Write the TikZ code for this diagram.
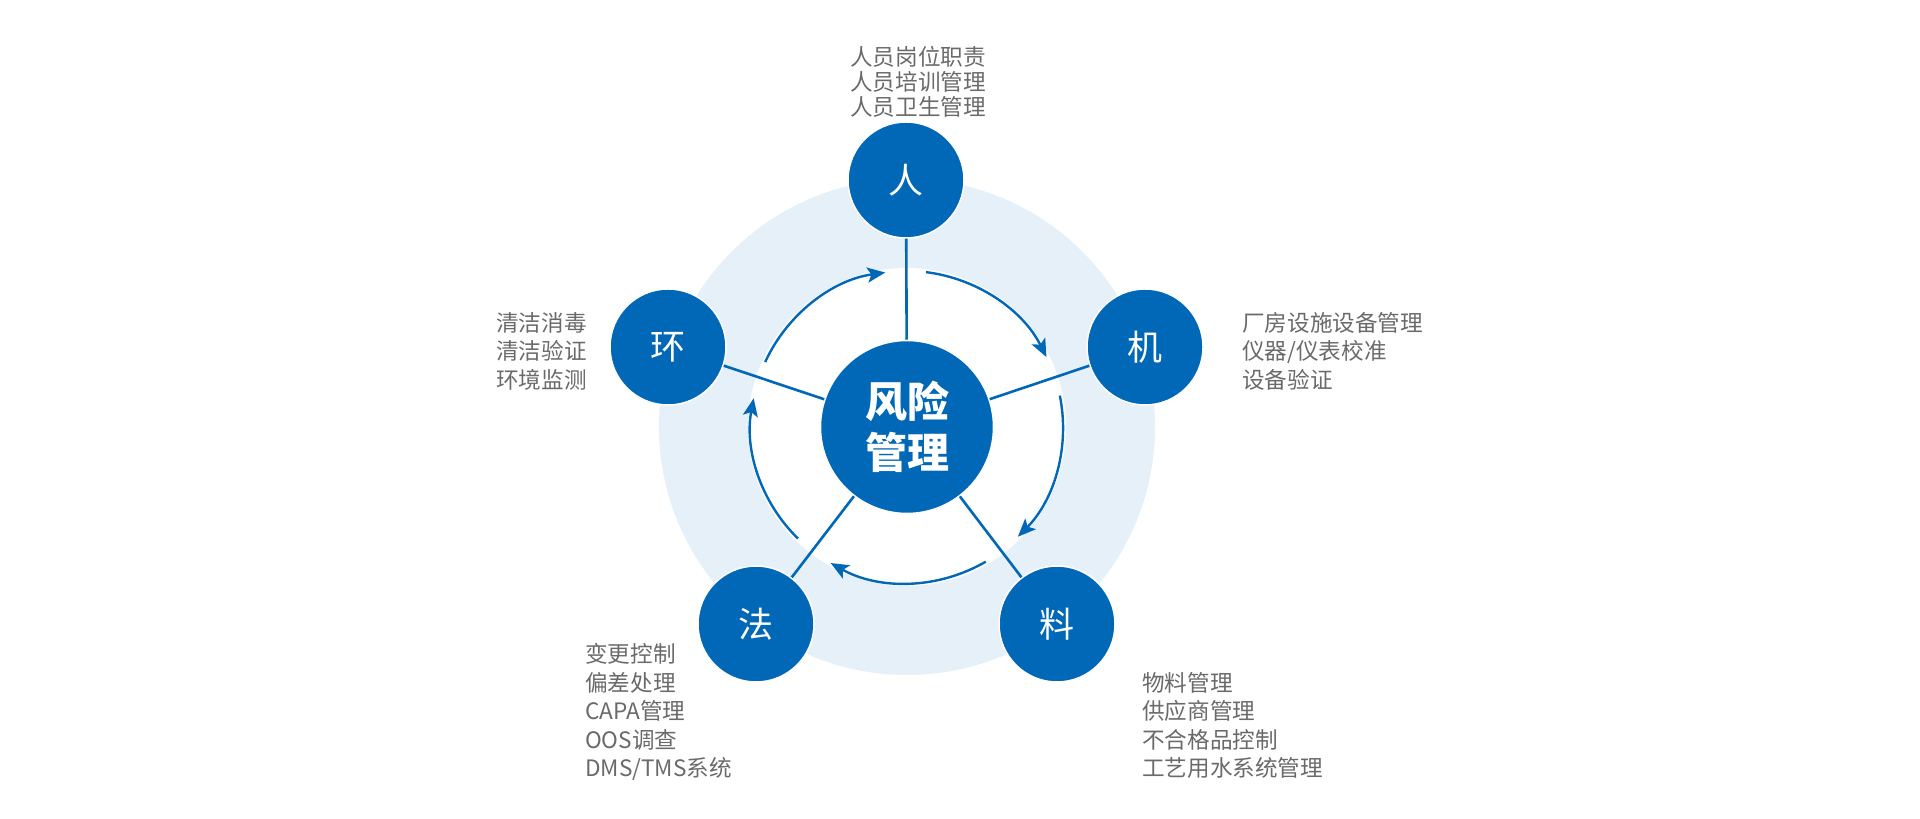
\documentclass[tikz,border=0pt]{standalone}
\usepackage{fontspec}
\setmainfont{Noto Sans CJK SC}
\usetikzlibrary{arrows.meta}
\definecolor{mblue}{HTML}{0068B7}
\definecolor{lbg}{HTML}{E6F0F8}
\definecolor{tgrey}{HTML}{6A6A6A}
\tikzset{
  outer/.style={circle, fill=mblue, draw=white, line width=1.5pt, minimum size=116pt, inner sep=0pt,
    text=white, font=\fontsize{35}{35}\selectfont},
  hub/.style={circle, fill=mblue, draw=white, line width=1.5pt, minimum size=173pt, inner sep=0pt,
    text=white, align=center, font=\fontsize{42}{51}\selectfont\bfseries},
  spoke/.style={draw=mblue, line width=2.6pt},
  cyc/.style={draw=mblue, line width=2.4pt, -{Stealth[length=18pt, width=15pt, inset=4pt]}},
  info/.style={text=tgrey, inner sep=0pt, align=left, font=\fontsize{22.6}{28.5}\selectfont},
}
\begin{document}
\begin{tikzpicture}[x=1pt,y=1pt]
\useasboundingbox (0,0) rectangle (1920,819);
\coordinate (c) at (907,392);
\fill[lbg] (c) circle (248);
\fill[white] (c) circle (159);
% cycle arcs
\draw[cyc] (c) ++(155.4:156) arc[start angle=155.4, end angle=98, radius=156];
\draw[cyc] (c) ++(83:156) arc[start angle=83, end angle=26.6, radius=156];
\draw[cyc] (c) ++(11.6:156) arc[start angle=11.6, end angle=-44.7, radius=156];
\draw[cyc] (c) ++(-59.7:156) arc[start angle=-59.7, end angle=-119.3, radius=156];
\draw[cyc] (c) ++(-134.3:156) arc[start angle=-134.3, end angle=-190.6, radius=156];
% nodes
\node[hub] (m) at (c) {风险\\管理};
\node[outer] (ren) at (906,639) {人};
\node[outer] (ji) at (1145,472) {机};
\node[outer] (liao) at (1057,195) {料};
\node[outer] (fa) at (756,195) {法};
\node[outer] (huan) at (668,472) {环};
% spokes
\draw[spoke] (m) -- (ren);
\draw[spoke] (m) -- (ji);
\draw[spoke] (m) -- (liao);
\draw[spoke] (m) -- (fa);
\draw[spoke] (m) -- (huan);
% info texts
\node[info, align=center, font=\fontsize{22.6}{25}\selectfont] (tren) at (918,737.5) {人员岗位职责\\人员培训管理\\人员卫生管理};
\node[info, anchor=west] (tji) at (1242,468) {厂房设施设备管理\\仪器/仪表校准\\设备验证};
\node[info, anchor=west] (thuan) at (496,468) {清洁消毒\\清洁验证\\环境监测};
\node[info, anchor=west] (tfa) at (585,107) {变更控制\\偏差处理\\CAPA管理\\OOS调查\\DMS/TMS系统};
\node[info, anchor=west] (tliao) at (1142,93.5) {物料管理\\供应商管理\\不合格品控制\\工艺用水系统管理};
\end{tikzpicture}
\end{document}
